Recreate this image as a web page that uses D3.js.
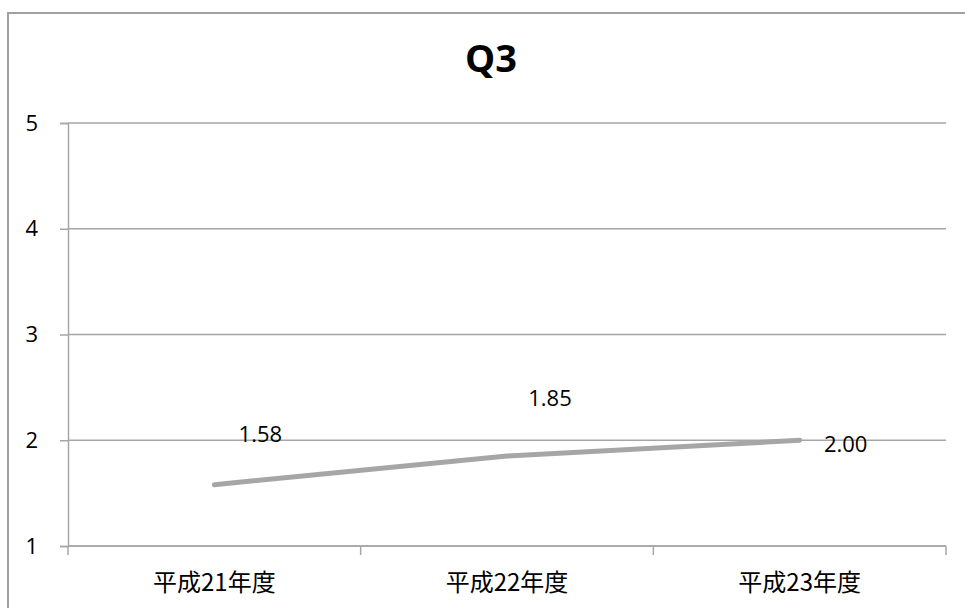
<!DOCTYPE html>
<html><head><meta charset="utf-8">
<script src="https://cdn.jsdelivr.net/npm/d3@7"></script>
<style>
html,body{margin:0;padding:0;background:#fff;}
svg{display:block;}
</style></head>
<body>
<svg id="chart" width="965" height="608"></svg>
<script>
const title = "Q3";
const categories = ["平成21年度", "平成22年度", "平成23年度"];
const values = [1.58, 1.85, 2.00];
const yTicks = [1, 2, 3, 4, 5];

const W = 965, H = 608;
const svg = d3.select("#chart");
const plot = {left: 68, right: 946, top: 123, bottom: 546};
const gray = "#A6A6A6";
const latin = "'Open Sans', 'Liberation Sans', sans-serif";
const cjk = "'Noto Sans CJK JP', sans-serif";

svg.append("rect").attr("width", W).attr("height", H).attr("fill", "#fff");
svg.append("rect").attr("x", 8).attr("y", 13).attr("width", 1000).attr("height", 700)
  .attr("fill", "none").attr("stroke", "#A0A0A0").attr("stroke-width", 2);

const x = d3.scaleBand().domain(categories).range([plot.left, plot.right]).padding(0);
const y = d3.scaleLinear().domain([1, 5]).range([plot.bottom, plot.top]);

svg.append("g").selectAll("line").data(yTicks).join("line")
  .attr("x1", plot.left).attr("x2", plot.right)
  .attr("y1", d => y(d)).attr("y2", d => y(d))
  .attr("stroke", gray).attr("stroke-width", 1.5);

const yAxis = svg.append("g").attr("transform", `translate(${plot.left},0)`)
  .call(d3.axisLeft(y).tickValues(yTicks).tickSize(8).tickPadding(22).tickFormat(d3.format("d")));
yAxis.select(".domain").attr("stroke", gray).attr("stroke-width", 1.5);
yAxis.selectAll(".tick line").attr("stroke", gray).attr("stroke-width", 1.5);
yAxis.selectAll(".tick text").attr("font-family", latin).attr("font-size", 22).attr("fill", "#000");

const xAxisG = svg.append("g").attr("transform", `translate(0,${plot.bottom})`);
xAxisG.append("line").attr("x1", plot.left).attr("x2", plot.right)
  .attr("stroke", gray).attr("stroke-width", 1.5);
const bounds = categories.map(c => x(c)).concat([x(categories[categories.length - 1]) + x.bandwidth()]);
xAxisG.selectAll("line.tk").data(bounds).join("line").attr("class", "tk")
  .attr("x1", d => d).attr("x2", d => d).attr("y1", 0).attr("y2", 9)
  .attr("stroke", gray).attr("stroke-width", 1.5);
xAxisG.selectAll("text").data(categories).join("text")
  .attr("x", d => x(d) + x.bandwidth() / 2).attr("y", 45)
  .attr("text-anchor", "middle").attr("font-family", cjk).attr("font-size", 24).attr("fill", "#000")
  .text(d => d);

const cx = (d, i) => x(categories[i]) + x.bandwidth() / 2;
svg.append("path").datum(values)
  .attr("d", d3.line().x(cx).y(d => y(d)))
  .attr("fill", "none").attr("stroke", gray).attr("stroke-width", 5).attr("stroke-linecap", "round");

const labelOffsets = [[46, -43], [43, -50], [46, 12]];
svg.append("g").selectAll("text").data(values).join("text")
  .attr("x", (d, i) => cx(d, i) + labelOffsets[i][0])
  .attr("y", (d, i) => y(d) + labelOffsets[i][1])
  .attr("text-anchor", "middle").attr("font-family", latin).attr("font-size", 22).attr("fill", "#000")
  .text(d => d3.format(".2f")(d));

svg.append("text").attr("x", 491).attr("y", 72).attr("text-anchor", "middle")
  .attr("font-family", latin).attr("font-weight", "bold").attr("font-size", 38).attr("fill", "#000")
  .text(title);
</script>
</body></html>
